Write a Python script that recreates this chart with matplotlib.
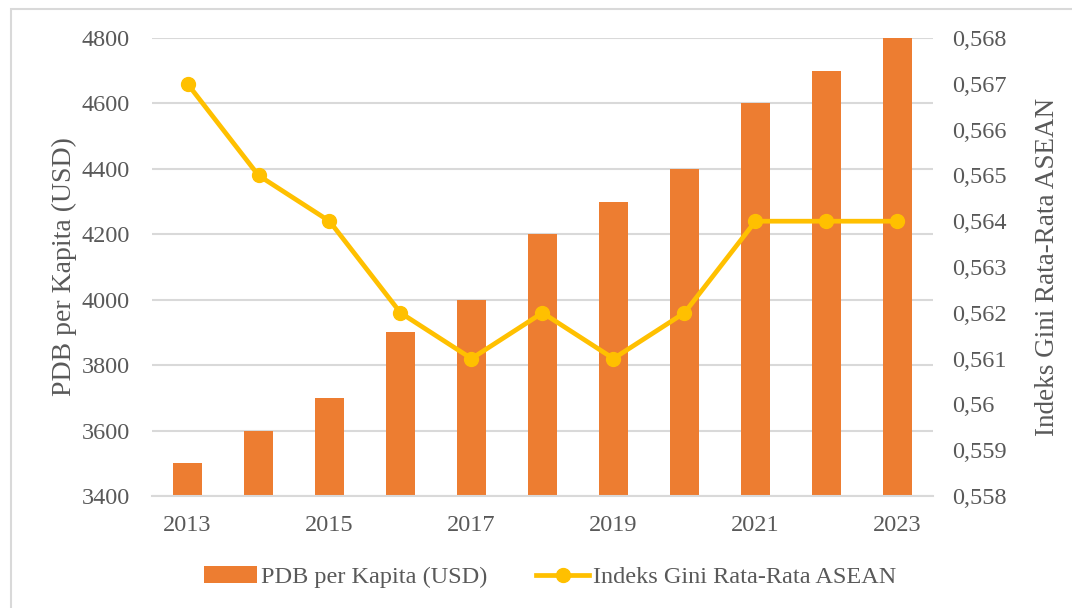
import matplotlib.pyplot as plt
from matplotlib.patches import Rectangle
from matplotlib.ticker import FuncFormatter

plt.rcParams["font.family"] = ["Liberation Serif", "DejaVu Serif"]

years = [2013, 2014, 2015, 2016, 2017, 2018, 2019, 2020, 2021, 2022, 2023]
pdb = [3500, 3600, 3700, 3900, 4000, 4200, 4300, 4400, 4600, 4700, 4800]
gini = [0.567, 0.565, 0.564, 0.562, 0.561, 0.562, 0.561, 0.562, 0.564, 0.564, 0.564]
year_labels = [str(y) if i % 2 == 0 else "" for i, y in enumerate(years)]

BAR = "#ED7D31"
LINE = "#FFC000"
TXT = "#595959"
GRID = "#D9D9D9"
W, H = 1072, 608

fig = plt.figure(figsize=(W / 100, H / 100), dpi=100)
ax = fig.add_axes([152 / W, 1 - 496 / H, (933 - 152) / W, (496 - 38) / H])
ax2 = ax.twinx()

x = list(range(len(years)))
ax.bar(x, pdb, width=0.4, color=BAR, zorder=2, label="PDB per Kapita (USD)")
ax2.plot(x, gini, color=LINE, lw=3.4, marker="o", ms=10, zorder=3,
         label="Indeks Gini Rata-Rata ASEAN")

ax.set_xlim(-0.5, len(years) - 0.5)
ax.set_ylim(3400, 4800)
ax.set_yticks(range(3400, 4801, 200))
ax2.set_ylim(0.558, 0.568)
ax2.set_yticks([0.558 + 0.001 * i for i in range(11)])
ax2.yaxis.set_major_formatter(
    FuncFormatter(lambda v, _: f"{v:.3f}".rstrip("0").replace(".", ",")))

ax.set_xticks(x)
ax.set_xticklabels(year_labels)
ax.yaxis.grid(True, color=GRID, lw=1.5, zorder=0)
ax.set_axisbelow(True)

for a in (ax, ax2):
    for s in a.spines.values():
        s.set_visible(False)
    a.tick_params(length=0, labelsize=17.5, colors=TXT)
ax.spines["bottom"].set_visible(True)
ax.spines["bottom"].set_color(GRID)
ax.spines["bottom"].set_linewidth(1.5)
ax.tick_params(axis="x", pad=14)
ax.tick_params(axis="y", pad=16)
ax2.tick_params(axis="y", pad=14)

ax.set_ylabel("PDB per Kapita (USD)", fontsize=20, color=TXT, labelpad=3)
ax2.set_ylabel("Indeks Gini Rata-Rata ASEAN", fontsize=19.5, color=TXT, labelpad=20)

h1, l1 = ax.get_legend_handles_labels()
h2, l2 = ax2.get_legend_handles_labels()
fig.legend(h1 + h2, l1 + l2, loc="center", bbox_to_anchor=(550 / W, 1 - 577 / H),
           ncol=2, frameon=False, fontsize=17.5, labelcolor=TXT,
           handlelength=2.2, handletextpad=0.15, columnspacing=2.0)

fig.patches.append(Rectangle((11 / W, -0.1), 1.2, 1.1 - 9 / H, transform=fig.transFigure,
                             fill=False, edgecolor=GRID, lw=1.5))

fig.savefig("out.png", dpi=100)
